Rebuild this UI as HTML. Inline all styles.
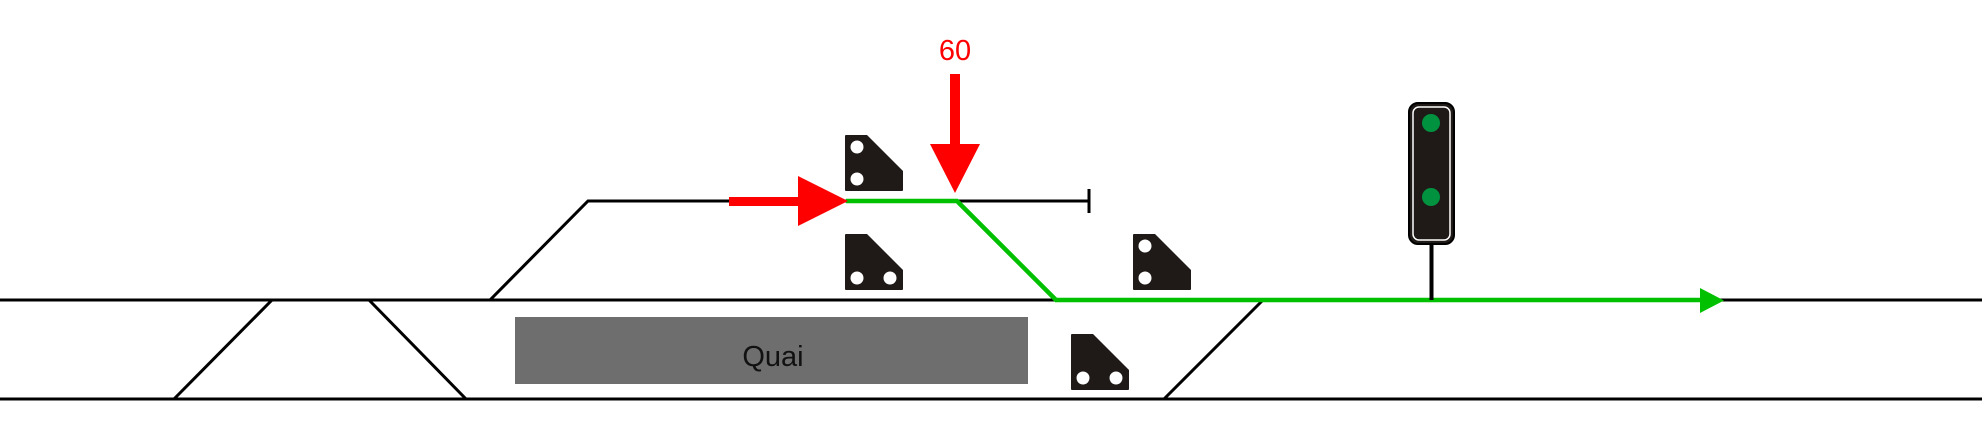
<!DOCTYPE html>
<html><head><meta charset="utf-8"><style>
html,body{margin:0;padding:0;background:#fff;}
svg{display:block;}
</style></head><body>
<svg width="1982" height="442" viewBox="0 0 1982 442" xmlns="http://www.w3.org/2000/svg">
<defs>
<g id="sigL">
<path d="M1,0 H22 L58,36 V55 Q58,56 57,56 H1 Q0,56 0,55 V1 Q0,0 1,0 Z" fill="#1f1a17"/>
<circle cx="12" cy="12" r="6.5" fill="#fff"/>
<circle cx="12" cy="44" r="6.5" fill="#fff"/>
</g>
<g id="sigB">
<path d="M1,0 H22 L58,36 V55 Q58,56 57,56 H1 Q0,56 0,55 V1 Q0,0 1,0 Z" fill="#1f1a17"/>
<circle cx="12" cy="44" r="6.5" fill="#fff"/>
<circle cx="45" cy="44" r="6.5" fill="#fff"/>
</g>
</defs>
<g stroke="#000" stroke-width="3" fill="none">
<line x1="0" y1="300" x2="1982" y2="300"/>
<line x1="0" y1="399" x2="1982" y2="399"/>
<line x1="174" y1="399" x2="272" y2="300"/>
<line x1="369" y1="300" x2="466" y2="399"/>
<line x1="1164" y1="399" x2="1263" y2="300"/>
<polyline points="490,300 588,201 1089,201"/>
<line x1="1089" y1="189" x2="1089" y2="213"/>
</g>
<rect x="515" y="317" width="513" height="67" fill="#6e6e6e"/>
<text x="773" y="366" font-family="'Liberation Sans',sans-serif" font-size="29" fill="#111" text-anchor="middle">Quai</text>
<polyline points="846,201 957,201 1056,300 1705,300" stroke="#00c000" stroke-width="4.5" fill="none"/>
<polygon points="1700,288 1724,300.5 1700,313" fill="#00c000"/>
<rect x="729" y="197" width="72" height="9" fill="#ff0000"/>
<polygon points="798,176 848,201 798,226" fill="#ff0000"/>
<rect x="950" y="74" width="10" height="72" fill="#ff0000"/>
<polygon points="930,144 980,144 955,193" fill="#ff0000"/>
<text x="955" y="60" font-family="'Liberation Sans',sans-serif" font-size="29" fill="#ff0000" text-anchor="middle">60</text>
<use href="#sigL" x="845" y="135"/>
<use href="#sigB" x="845" y="234"/>
<use href="#sigL" x="1133" y="234"/>
<use href="#sigB" x="1071" y="334"/>
<rect x="1429.5" y="244" width="4" height="56" fill="#000"/>
<rect x="1409" y="103" width="45" height="141" rx="9" fill="#1f1a17" stroke="#000" stroke-width="2"/>
<rect x="1413" y="107" width="37" height="133" rx="6" fill="#1f1a17" stroke="#fff" stroke-width="1.5"/>
<circle cx="1431" cy="123" r="9" fill="#00923f"/>
<circle cx="1431" cy="197" r="9" fill="#00923f"/>
</svg>
</body></html>
